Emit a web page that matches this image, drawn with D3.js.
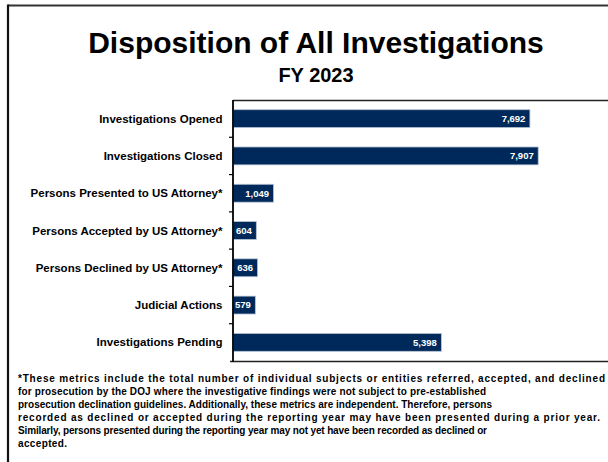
<!DOCTYPE html>
<html>
<head>
<meta charset="utf-8">
<script src="https://cdn.jsdelivr.net/npm/d3@7"></script>
<style>
  html, body { margin: 0; padding: 0; background: #fff; }
  svg { display: block; font-family: "Liberation Sans", Arial, Helvetica, sans-serif; }
</style>
</head>
<body>
<svg id="chart" width="608" height="462"></svg>
<script>
const categories = [
  "Investigations Opened",
  "Investigations Closed",
  "Persons Presented to US Attorney*",
  "Persons Accepted by US Attorney*",
  "Persons Declined by US Attorney*",
  "Judicial Actions",
  "Investigations Pending"
];
const values = [7692, 7907, 1049, 604, 636, 579, 5398];
const titleText = "Disposition of All Investigations";
const subtitleText = "FY 2023";
const footnoteLines = [
  "*These metrics include the total number of individual subjects or entities referred, accepted, and declined",
  "for prosecution by the DOJ where the investigative findings were not subject to pre-established",
  "prosecution declination guidelines. Additionally, these metrics are independent.  Therefore, persons",
  "recorded as declined or accepted during the reporting year may have been presented during a prior year.",
  "Similarly, persons presented during the reporting year may not yet have been recorded as declined or",
  "accepted."
];
const footnoteWidths = [587, 468, 474, 582, 469, 49];

const svg = d3.select("#chart");
const W = 608, H = 462;

// outer frame (top + left visible)
svg.append("line").attr("x1", 8).attr("x2", W).attr("y1", 5.5).attr("y2", 5.5)
  .attr("stroke", "#333").attr("stroke-width", 2);
svg.append("line").attr("x1", 8).attr("x2", 8).attr("y1", 4.5).attr("y2", H)
  .attr("stroke", "#111").attr("stroke-width", 2.2);

// titles
svg.append("text").attr("x", 316).attr("y", 53).attr("text-anchor", "middle")
  .attr("font-size", 30).attr("font-weight", "bold").attr("fill", "#000").text(titleText);
svg.append("text").attr("x", 316).attr("y", 82).attr("text-anchor", "middle")
  .attr("font-size", 20).attr("font-weight", "bold").attr("fill", "#000").text(subtitleText);

// scales
const plotLeft = 233, plotTop = 100, plotBottom = 361, plotRight = 619;
const x = d3.scaleLinear().domain([0, 10000]).range([plotLeft, plotRight]);
const y = d3.scaleBand().domain(categories).range([plotTop, plotBottom])
  .paddingInner(0.52).paddingOuter(0.26);

// plot frame top/bottom
svg.append("line").attr("x1", plotLeft).attr("x2", W).attr("y1", plotTop + 0.5).attr("y2", plotTop + 0.5)
  .attr("stroke", "#222").attr("stroke-width", 1.5);
svg.append("line").attr("x1", plotLeft - 3).attr("x2", W).attr("y1", plotBottom + 0.5).attr("y2", plotBottom + 0.5)
  .attr("stroke", "#222").attr("stroke-width", 1.5);

// bars
svg.append("g").selectAll("rect").data(values).join("rect")
  .attr("x", x(0))
  .attr("y", (d, i) => y(categories[i]))
  .attr("width", d => x(d) - x(0))
  .attr("height", y.bandwidth())
  .attr("fill", "#00295b")
  .attr("stroke", "#b9c4d4")
  .attr("stroke-width", 0.8);

// value labels
svg.append("g").selectAll("text").data(values).join("text")
  .attr("x", d => x(d) - 4.5)
  .attr("y", (d, i) => y(categories[i]) + y.bandwidth() / 2)
  .attr("dy", "0.35em")
  .attr("text-anchor", "end")
  .attr("font-size", 9.5)
  .attr("font-weight", "bold")
  .attr("fill", "#fff")
  .text(d => d3.format(",")(d));

// left axis with ticks at category boundaries
const step = y.step();
const axisG = svg.append("g");
axisG.append("line").attr("x1", plotLeft).attr("x2", plotLeft)
  .attr("y1", plotTop).attr("y2", plotBottom + 1)
  .attr("stroke", "#000").attr("stroke-width", 1.8);
axisG.selectAll("line.tick").data(categories.slice(1)).join("line")
  .attr("class", "tick")
  .attr("x1", plotLeft - 4).attr("x2", plotLeft)
  .attr("y1", c => y(c) - step * y.paddingInner() / 2)
  .attr("y2", c => y(c) - step * y.paddingInner() / 2)
  .attr("stroke", "#000").attr("stroke-width", 1.2);
axisG.selectAll("text").data(categories).join("text")
  .attr("x", 222.5)
  .attr("y", c => y(c) + y.bandwidth() / 2)
  .attr("dy", "0.35em")
  .attr("text-anchor", "end")
  .attr("font-size", 11.5)
  .attr("font-weight", "bold")
  .attr("fill", "#000")
  .text(c => c);

// footnote
const fn = svg.append("g");
footnoteLines.forEach((line, i) => {
  fn.append("text")
    .attr("x", 18)
    .attr("y", 382 + i * 13)
    .attr("font-size", 10)
    .attr("font-weight", "bold")
    .attr("fill", "#000")
    .attr("textLength", footnoteWidths[i])
    .attr("lengthAdjust", "spacing")
    .text(line);
});
</script>
</body>
</html>
